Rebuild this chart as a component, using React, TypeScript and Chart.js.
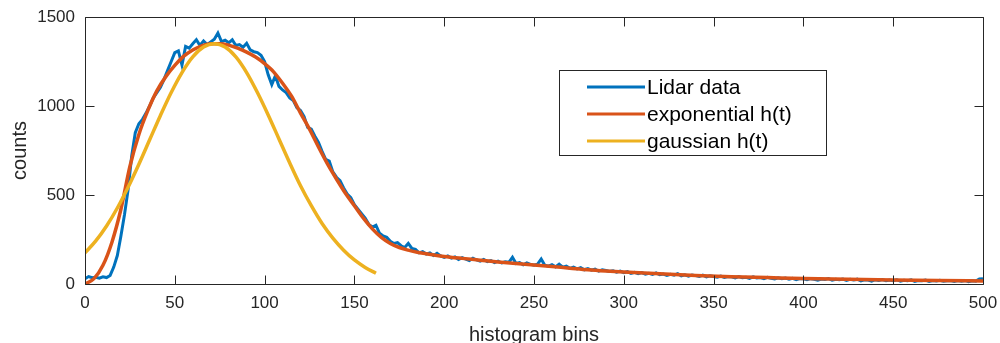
import React, { useEffect, useRef } from "react";
import { Chart, registerables } from "chart.js";

Chart.register(...registerables);

const FONT = "'Liberation Sans', Arial, Helvetica, sans-serif";
const AXIS_COLOR = "#262626";

const X_TICKS = [0, 50, 100, 150, 200, 250, 300, 350, 400, 450, 500];
const Y_TICKS = [0, 500, 1000, 1500];

const SERIES_NAMES = ["Lidar data", "exponential h(t)", "gaussian h(t)"];
const SERIES_COLORS = ["#0072BD", "#D95319", "#EDB120"];

// Lidar histogram, one value every 2 bins (bins 0..500)
const LIDAR_BIN_STEP = 2;
const lidarCounts = [
  30, 42, 35, 38, 33, 40, 36, 48,
  95, 160, 270, 390, 530, 720, 850, 900, 925, 960, 1000, 1045, 1075, 1105, 1150, 1200, 1250, 1300, 1310,
  1230, 1335, 1325, 1350, 1372, 1340, 1365, 1345, 1360, 1375, 1410, 1362, 1370, 1355, 1372, 1340, 1345, 1330, 1352, 1315, 1305, 1300, 1285, 1250,
  1175, 1120, 1170, 1110, 1090, 1075, 1045, 1030, 990, 975, 940, 880, 870, 830, 795, 745, 700, 690, 630, 600,
  580, 540, 505, 485, 445, 420, 395, 370, 335, 320, 330, 285, 270, 262, 240, 228, 232, 215, 205, 228,
  200, 195, 175, 182, 168, 175, 160, 172, 158, 150,
  158, 145, 152, 138, 148, 140, 132, 145, 135, 128, 138, 126, 132, 120, 128, 118, 125, 122, 150, 115,
  120, 108, 118, 110, 106, 112, 140, 105, 100, 108, 96, 112, 95, 100, 88, 95, 85, 92, 80, 86,
  78, 84, 72, 80, 76, 70, 74, 66, 72, 64,
  70, 60, 66, 58, 64, 55, 60, 54, 62, 52, 56, 48, 55, 50, 58, 46, 52, 44, 50, 47,
  42, 50, 40, 46, 42, 38, 45, 37, 42, 40, 34, 42, 35, 38, 32, 40, 34, 36, 30, 38,
  32, 28, 35, 30, 33, 27, 32, 25, 31, 29,
  24, 30, 26, 22, 28, 25, 30, 21, 26, 24, 28, 20, 26, 22, 27, 18, 24, 22, 16, 24,
  20, 25, 18, 22, 19, 24, 16, 21, 18, 23, 15, 20, 18, 22, 14, 19, 17, 21, 15, 18,
  20, 14, 19, 16, 20, 13, 18, 16, 28, 30,
];

// Exponential h(t) fit
const expBins = [
  0, 5, 10, 15, 20, 25, 30, 35, 40, 45, 50, 55, 60, 65, 70, 75, 80, 85, 90, 95,
  100, 105, 110, 115, 120, 125, 130, 135, 140, 145, 150, 155, 160, 165, 170, 175, 180, 185, 190, 195,
  200, 210, 220, 230, 240, 250, 260, 270, 280, 290, 300, 320, 340, 360, 380, 400, 425, 450, 475, 500,
];
const expCounts = [
  0, 30, 105, 235, 420, 660, 840, 975, 1085, 1165, 1228, 1280, 1315, 1338, 1350, 1350, 1342, 1325, 1303, 1275,
  1238, 1192, 1128, 1055, 960, 870, 770, 675, 590, 510, 440, 370, 310, 262, 228, 205, 190, 178, 170, 162,
  155, 144, 134, 124, 115, 107, 98, 89, 80, 73, 67, 57, 48, 41, 36, 31, 26, 22, 19, 17,
];

// Gaussian h(t) fit
const gaussBins = [
  0, 6, 12, 18, 24, 30, 36, 42, 48, 54, 60, 66, 72, 78, 84, 90, 96, 102, 108, 114,
  120, 126, 132, 138, 144, 150, 156, 162,
];
const gaussCounts = [
  175, 242, 326, 427, 544, 673, 810, 947, 1076, 1188, 1276, 1331, 1350, 1331, 1276, 1188, 1076, 950, 815, 680,
  552, 440, 340, 258, 190, 135, 93, 60,
];

const boxPlugin = {
  id: "matlabBox",
  afterDatasetsDraw(chart: any) {
    const { ctx, chartArea } = chart;
    const xs = chart.scales.x;
    const ys = chart.scales.y;
    const L = Math.round(chartArea.left) + 0.5;
    const R = Math.round(chartArea.right) + 0.5;
    const T = Math.round(chartArea.top) + 0.5;
    const B = Math.round(chartArea.bottom) + 0.5;
    const tl = 9;
    ctx.save();
    ctx.strokeStyle = AXIS_COLOR;
    ctx.lineWidth = 1;
    ctx.beginPath();
    ctx.rect(L, T, R - L, B - T);
    for (const v of X_TICKS) {
      const px = Math.round(xs.getPixelForValue(v)) + 0.5;
      ctx.moveTo(px, B);
      ctx.lineTo(px, B - tl);
      ctx.moveTo(px, T);
      ctx.lineTo(px, T + tl);
    }
    for (const v of Y_TICKS) {
      const py = Math.round(ys.getPixelForValue(v)) + 0.5;
      ctx.moveTo(L, py);
      ctx.lineTo(L + tl, py);
      ctx.moveTo(R, py);
      ctx.lineTo(R - tl, py);
    }
    ctx.stroke();
    ctx.restore();
  },
};

const legendPlugin = {
  id: "matlabLegend",
  afterDraw(chart: any) {
    const { ctx } = chart;
    const x0 = 559.5, y0 = 70.5, w = 267, h = 85;
    ctx.save();
    ctx.fillStyle = "#ffffff";
    ctx.fillRect(x0, y0, w, h);
    ctx.strokeStyle = AXIS_COLOR;
    ctx.lineWidth = 1;
    ctx.strokeRect(x0, y0, w, h);
    ctx.font = `21px ${FONT}`;
    ctx.textBaseline = "middle";
    ctx.textAlign = "left";
    SERIES_NAMES.forEach((name, i) => {
      const y = 87 + i * 27;
      ctx.strokeStyle = SERIES_COLORS[i];
      ctx.lineWidth = 3;
      ctx.beginPath();
      ctx.moveTo(587, y);
      ctx.lineTo(645, y);
      ctx.stroke();
      ctx.fillStyle = "#000000";
      ctx.fillText(name, 647, y + 1);
    });
    ctx.restore();
  },
};

export default function App() {
  const ref = useRef<HTMLCanvasElement>(null);

  useEffect(() => {
    document.body.style.margin = "0";
    const canvas = ref.current;
    if (!canvas) return;

    const lidarPoints = lidarCounts.map((c, i) => ({ x: i * LIDAR_BIN_STEP, y: c }));
    const expPoints = expBins.map((b, i) => ({ x: b, y: expCounts[i] }));
    const gaussPoints = gaussBins.map((b, i) => ({ x: b, y: gaussCounts[i] }));

    const chart = new Chart(canvas, {
      type: "line",
      data: {
        datasets: [
          {
            label: SERIES_NAMES[0],
            data: lidarPoints,
            borderColor: SERIES_COLORS[0],
            borderWidth: 3,
            pointRadius: 0,
            tension: 0,
            order: 3,
          },
          {
            label: SERIES_NAMES[1],
            data: expPoints,
            borderColor: SERIES_COLORS[1],
            borderWidth: 3.5,
            pointRadius: 0,
            cubicInterpolationMode: "monotone",
            order: 2,
          },
          {
            label: SERIES_NAMES[2],
            data: gaussPoints,
            borderColor: SERIES_COLORS[2],
            borderWidth: 3.5,
            pointRadius: 0,
            cubicInterpolationMode: "monotone",
            order: 1,
          },
        ],
      },
      options: {
        responsive: false,
        animation: false,
        layout: { padding: { top: 17, right: 17, left: 0, bottom: 0 } },
        plugins: {
          legend: { display: false },
          tooltip: { enabled: false },
        },
        scales: {
          x: {
            type: "linear",
            min: 0,
            max: 500,
            afterFit: (s: any) => {
              s.height = 59;
              s.paddingLeft = 0;
              s.paddingRight = 0;
            },
            afterBuildTicks: (s: any) => {
              s.ticks = X_TICKS.map((v) => ({ value: v }));
            },
            ticks: {
              font: { family: FONT, size: 17 },
              color: AXIS_COLOR,
              padding: 9,
              maxRotation: 0,
              autoSkip: false,
              callback: (v: any) => String(v),
            },
            grid: { display: false, drawTicks: false },
            border: { display: false },
            title: {
              display: true,
              text: "histogram bins",
              color: AXIS_COLOR,
              font: { family: FONT, size: 20, lineHeight: 1 },
              padding: { top: 0, bottom: -2 },
            },
          },
          y: {
            type: "linear",
            min: 0,
            max: 1500,
            afterFit: (s: any) => {
              s.width = 85;
              s.paddingTop = 0;
              s.paddingBottom = 0;
            },
            afterBuildTicks: (s: any) => {
              s.ticks = Y_TICKS.map((v) => ({ value: v }));
            },
            ticks: {
              font: { family: FONT, size: 17 },
              color: AXIS_COLOR,
              padding: 10,
              autoSkip: false,
              callback: (v: any) => String(v),
            },
            grid: { display: false, drawTicks: false },
            border: { display: false },
            title: {
              display: true,
              text: "counts",
              color: AXIS_COLOR,
              font: { family: FONT, size: 20, lineHeight: 1 },
              padding: { top: 10, bottom: 0 },
            },
          },
        },
      },
      plugins: [boxPlugin, legendPlugin],
    } as any);

    return () => chart.destroy();
  }, []);

  return (
    <div style={{ width: 1000, height: 343 }}>
      <canvas ref={ref} width={1000} height={343} style={{ display: "block" }} />
    </div>
  );
}
